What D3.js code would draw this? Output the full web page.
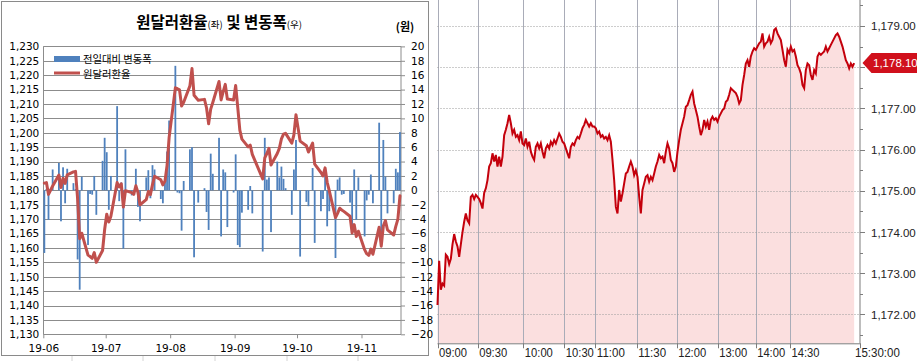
<!DOCTYPE html>
<html>
<head>
<meta charset="utf-8">
<script src="https://cdn.jsdelivr.net/npm/d3@7/dist/d3.min.js"></script>
<style>
  body { margin: 0; background: #fff; }
  svg { display: block; }
</style>
</head>
<body>
<div id="chart"></div>
<script>
// ---------- left chart: daily USD/KRW (left axis) and daily change (right axis) ----------
const startDay = '2019-06-03';
const endDay = '2019-11-21';
const holidays = ['2019-06-06', '2019-08-15', '2019-09-12', '2019-09-13', '2019-10-03', '2019-10-09'];

const rate = [
  1182.5, 1182.7, 1178.6, 1181.5, 1185.3, 1181.0, 1184.2, 1182.4, 1185.4, 1186.4,
  1186.6, 1177.0, 1163.2, 1165.1, 1157.5, 1157.0, 1156.4, 1158.4, 1155.0, 1159.1,
  1166.4, 1171.7, 1169.0, 1171.0, 1182.7, 1181.2, 1182.3, 1174.2, 1179.9, 1179.2,
  1178.6, 1181.6, 1179.3, 1175.0, 1176.8, 1179.6, 1178.5, 1182.0, 1184.9, 1183.7,
  1181.9, 1183.2, 1188.6, 1198.3, 1215.6, 1215.3, 1214.9, 1209.3, 1210.6, 1216.3,
  1222.3, 1213.0, 1211.3, 1211.6, 1208.6, 1203.1, 1208.2, 1210.5, 1217.8, 1211.4,
  1214.3, 1216.8, 1211.7, 1211.4, 1216.4, 1208.8, 1200.9, 1197.8, 1195.1, 1195.7,
  1192.5, 1184.0, 1191.3, 1192.8, 1194.6, 1188.8, 1192.8, 1194.6, 1197.9, 1199.5,
  1199.8, 1196.4, 1199.3, 1206.3, 1197.1, 1195.5, 1193.3, 1196.4, 1189.1, 1186.2,
  1185.0, 1187.8, 1182.8, 1179.9, 1170.5, 1172.0, 1173.8, 1173.2, 1172.7, 1171.0,
  1165.2, 1168.1, 1164.0, 1165.8, 1159.4, 1158.0, 1157.4, 1159.6, 1157.8, 1167.2,
  1160.6, 1167.6, 1169.5, 1166.3, 1164.5, 1167.5, 1170.0, 1178.1
];

const change = [
  -8.7, 0.2, -4.1, 2.9, 3.8, -4.3, 3.2, -1.8, 3.0, 1.0,
  0.2, -9.6, -13.8, 1.9, -7.6, -0.5, -0.6, 2.0, -3.4, 4.1,
  7.3, 5.3, -2.7, 2.0, 11.7, -1.5, 1.1, -8.1, 5.7, -0.7,
  -0.6, 3.0, -2.3, -4.3, 1.8, 2.8, -1.1, 3.5, 2.9, -1.2,
  -1.8, 1.3, 5.4, 9.7, 17.3, -0.3, -0.4, -5.6, 1.3, 5.7,
  6.0, -9.3, -1.7, 0.3, -3.0, -5.5, 5.1, 2.3, 7.3, -6.4,
  2.9, 2.5, -5.1, -0.3, 5.0, -7.6, -7.9, -3.1, -2.7, 0.6,
  -3.2, -8.5, 7.3, 1.5, 1.8, -5.8, 4.0, 1.8, 3.3, 1.6,
  0.3, -3.4, 2.9, 7.0, -9.2, -1.6, -2.2, 3.1, -7.3, -2.9,
  -1.2, 2.8, -5.0, -2.9, -9.4, 1.5, 1.8, -0.6, -0.5, -1.7,
  -5.8, 2.9, -4.1, 1.8, -6.4, -1.4, -0.6, 2.2, -1.8, 9.4,
  -6.6, 7.0, 1.9, -3.2, -1.8, 3.0, 2.5, 8.1
];

const rateTicks = d3.range(1130, 1231, 5);
const changeTicks = d3.range(-20, 21, 2);
const monthLabels = ['19-06', '19-07', '19-08', '19-09', '19-10', '19-11'];

// ---------- right chart: intraday USD/KRW ----------
const intraday = [
  1172.23, 1173.3, 1172.6, 1172.75, 1172.7, 1173.45, 1173.4, 1173.22, 1173.35, 1173.7,
  1173.95, 1173.77, 1173.65, 1173.4, 1173.7, 1174.0, 1174.25, 1174.45, 1174.28, 1174.21,
  1174.85, 1174.9, 1174.8, 1174.9, 1174.85, 1174.8, 1174.7, 1174.57, 1174.95,
  1175.06, 1175.26, 1175.59, 1175.67, 1175.91, 1175.71, 1175.87, 1175.59, 1175.83, 1175.59,
  1175.83, 1176.35, 1176.48, 1176.64, 1176.84, 1176.64, 1176.39, 1176.48, 1176.31, 1176.35,
  1176.23, 1176.44, 1176.15, 1176.11, 1176.27, 1176.07, 1176.19, 1175.95, 1175.83, 1175.75,
  1176.07, 1176.15, 1176.03, 1176.15, 1175.95, 1175.79, 1176.03, 1176.11, 1176.03, 1176.19,
  1176.11, 1176.23, 1176.15, 1176.27, 1176.39, 1176.31, 1176.19, 1176.15, 1176.03, 1175.91,
  1175.79, 1176.07, 1176.15, 1176.11, 1176.23, 1176.31, 1176.27, 1176.39, 1176.52, 1176.60,
  1176.72, 1176.64, 1176.56, 1176.64, 1176.56, 1176.56, 1176.52, 1176.39, 1176.44, 1176.31,
  1176.35, 1176.27, 1176.31, 1176.23, 1176.35, 1176.19, 1175.75, 1175.26, 1174.61, 1174.45,
  1175.02, 1174.74, 1174.94, 1175.18, 1175.42, 1175.46, 1175.59, 1175.71, 1175.59, 1175.38,
  1175.50, 1175.34, 1174.86, 1174.45, 1175.02, 1175.18, 1175.34, 1175.38, 1175.22, 1175.34,
  1175.26, 1175.42, 1175.59, 1175.71, 1175.87, 1175.79, 1175.83, 1175.67, 1175.95, 1176.15,
  1176.03, 1175.75, 1175.67, 1175.46, 1175.59, 1175.95, 1176.23, 1176.48, 1176.64, 1176.80,
  1177.04, 1177.08, 1177.20, 1177.33, 1177.41, 1177.12, 1176.96, 1176.80, 1176.56, 1176.35,
  1176.48, 1176.72, 1176.56, 1176.68, 1176.48, 1176.72, 1176.80, 1176.72, 1176.76, 1176.68,
  1176.80, 1176.88, 1176.96, 1177.00, 1177.16, 1177.20, 1177.33, 1177.49, 1177.45, 1177.41,
  1177.37, 1177.28, 1177.12, 1177.20, 1177.57, 1177.81, 1178.09, 1178.17, 1178.01, 1178.26,
  1178.38, 1178.46, 1178.42, 1178.50, 1178.58, 1178.62, 1178.82, 1178.50, 1178.58, 1178.62,
  1178.74, 1178.58, 1178.66, 1178.90, 1178.94, 1178.82, 1178.74, 1178.66, 1178.42, 1178.17,
  1178.01, 1178.42, 1178.34, 1178.50, 1178.38, 1178.42, 1178.26, 1178.05, 1177.97, 1177.85,
  1177.57, 1177.49, 1177.93, 1178.09, 1178.05, 1177.81, 1177.69, 1177.93, 1177.85, 1178.26,
  1178.34, 1178.30, 1178.34, 1178.38, 1178.50, 1178.38, 1178.46, 1178.54, 1178.62, 1178.70,
  1178.78, 1178.82, 1178.74, 1178.62, 1178.50, 1178.34, 1178.17, 1178.09, 1177.97, 1178.09,
  1178.01, 1178.10
];

const timeLabels = ['09:00', '09:30', '10:00', '10:30', '11:00', '11:30', '12:00', '13:00', '14:00', '14:30', '15:30:00'];
// tick positions counted in intraday samples
const timePos = [0, 24.1, 51.5, 76.1, 94.7, 119.5, 143.5, 168.1, 190.9, 211.5, 253.2];
const priceTicks = d3.range(1172, 1179.5, 1);
const lastPrice = 1178.10;

// ---------- svg ----------
const width = 917;
const height = 361;
const korFont = '"Noto Sans CJK KR", "DejaVu Sans", sans-serif';
const numFont = '"Liberation Sans", Arial, sans-serif';

const svg = d3.select('#chart')
  .append('svg')
  .attr('width', width)
  .attr('height', height);

// ================= LEFT CHART =================
const left = svg.append('g');

// spreadsheet cells peeking around the chart object
[72, 143, 215, 287, 358].forEach(x => {
  left.append('line').attr('x1', x).attr('x2', x).attr('y1', 356).attr('y2', 361)
    .attr('stroke', '#d4d4d4');
});

left.append('rect')
  .attr('x', 1.5).attr('y', 1.5)
  .attr('width', 427).attr('height', 354)
  .attr('fill', '#fff')
  .attr('stroke', '#8a8a8a');

const parseDay = d3.timeParse('%Y-%m-%d');
const fmtDay = d3.timeFormat('%Y-%m-%d');
const holidaySet = new Set(holidays);
const days = d3.timeDay.range(parseDay(startDay), d3.timeDay.offset(parseDay(endDay), 1))
  .filter(d => d.getDay() > 0 && d.getDay() < 6 && !holidaySet.has(fmtDay(d)));

const halfDay = 12 * 3600 * 1000;
const xL = d3.scaleTime()
  .domain([new Date(+days[0] - halfDay), new Date(+days[days.length - 1] + halfDay)])
  .range([43.3, 401]);
const yL = d3.scaleLinear().domain([1130, 1230]).range([334.3, 46.4]);
const yR = d3.scaleLinear().domain([-20, 20]).range([334.3, 46.4]);

// horizontal gridlines
left.append('g')
  .selectAll('line')
  .data(rateTicks)
  .join('line')
  .attr('x1', xL.range()[0]).attr('x2', xL.range()[1])
  .attr('y1', d => Math.round(yL(d)) + 0.5).attr('y2', d => Math.round(yL(d)) + 0.5)
  .attr('stroke', '#8c8c8c');

// plot border verticals
left.append('line')
  .attr('x1', 43.5).attr('x2', 43.5).attr('y1', yL(1230)).attr('y2', yL(1130))
  .attr('stroke', '#8c8c8c');
left.append('line')
  .attr('x1', 401).attr('x2', 401).attr('y1', yL(1230)).attr('y2', yL(1130))
  .attr('stroke', '#8c8c8c');

// bars
const nDays = Math.min(days.length, change.length, rate.length);
left.append('g')
  .selectAll('rect')
  .data(d3.range(nDays))
  .join('rect')
  .attr('x', i => xL(days[i]) - 0.9)
  .attr('width', 1.8)
  .attr('y', i => Math.min(yR(0), yR(change[i])))
  .attr('height', i => Math.abs(yR(change[i]) - yR(0)))
  .attr('fill', '#4f81bd');

// rate line
const rateLine = d3.line()
  .x(i => xL(days[i]))
  .y(i => yL(rate[i]));

left.append('path')
  .datum(d3.range(nDays))
  .attr('d', rateLine)
  .attr('fill', 'none')
  .attr('stroke', '#c0504d')
  .attr('stroke-width', 3)
  .attr('stroke-linejoin', 'round')
  .attr('stroke-linecap', 'round');

// left axis labels
const leftAxis = left.append('g')
  .attr('transform', 'translate(43.3,0)')
  .call(d3.axisLeft(yL).tickValues(rateTicks).tickFormat(d3.format(',')).tickSize(0).tickPadding(4));
leftAxis.select('.domain').remove();
leftAxis.selectAll('text')
  .attr('font-family', '"DejaVu Sans", sans-serif')
  .attr('font-size', 10.5)
  .attr('fill', '#000');

// right axis
const rightAxis = left.append('g')
  .attr('transform', 'translate(401,0)')
  .call(d3.axisRight(yR).tickValues(changeTicks).tickSize(4).tickPadding(6));
rightAxis.select('.domain').remove();
rightAxis.selectAll('line').attr('stroke', '#8c8c8c');
rightAxis.selectAll('text')
  .attr('font-family', '"DejaVu Sans", sans-serif')
  .attr('font-size', 10.5)
  .attr('fill', '#000');

// month axis
const monthTicks = monthLabels.map((m, i) => new Date(+d3.timeMonth.offset(days[0], i) - halfDay));
const bottomAxis = left.append('g')
  .attr('transform', `translate(0,${yL(1130)})`)
  .call(d3.axisBottom(xL).tickValues(monthTicks)
    .tickFormat((d, i) => monthLabels[i]).tickSize(4).tickPadding(6));
bottomAxis.select('.domain').remove();
bottomAxis.selectAll('line').attr('stroke', '#8c8c8c');
bottomAxis.selectAll('text')
  .attr('font-family', '"DejaVu Sans", sans-serif')
  .attr('font-size', 10.5)
  .attr('fill', '#000');

// title
const title = left.append('text')
  .attr('x', 219).attr('y', 28)
  .attr('text-anchor', 'middle')
  .attr('font-family', korFont)
  .attr('fill', '#000');
title.append('tspan').attr('font-size', 15.5).attr('font-weight', 'bold').text('원달러환율');
title.append('tspan').attr('font-size', 9.5).text('(좌)');
title.append('tspan').attr('font-size', 15.5).attr('font-weight', 'bold').text(' 및 변동폭');
title.append('tspan').attr('font-size', 9.5).text('(우)');

left.append('text')
  .attr('x', 405).attr('y', 31)
  .attr('text-anchor', 'middle')
  .attr('font-family', korFont)
  .attr('font-size', 11)
  .attr('font-weight', 'bold')
  .text('(원)');

// legend
const legend = left.append('g').attr('font-family', korFont).attr('font-size', 10.3);
legend.append('rect').attr('x', 54).attr('y', 56).attr('width', 26).attr('height', 6).attr('fill', '#4f81bd');
legend.append('text').attr('x', 83).attr('y', 62.5).text('전일대비 변동폭');
legend.append('line').attr('x1', 54).attr('x2', 80).attr('y1', 73).attr('y2', 73)
  .attr('stroke', '#c0504d').attr('stroke-width', 3);
legend.append('text').attr('x', 83).attr('y', 77.6).text('원달러환율');

// ================= RIGHT CHART =================
const right = svg.append('g');

const xP = d3.scaleLinear().domain([0, 253.2]).range([437.5, 859.5]);
const yP = d3.scaleLinear().domain([1171.3, 1179.63]).range([343.3, 0]);
const baseY = yP.range()[0];
const axisX = xP(253.2) + 0.5;

// area under the price
const area = d3.area()
  .x((d, i) => xP(i))
  .y0(baseY)
  .y1(d => yP(d));

right.append('path')
  .datum(intraday)
  .attr('d', area)
  .attr('fill', '#fbdfdf');

// vertical time gridlines
right.append('g')
  .selectAll('line')
  .data(timePos.slice(0, -1))
  .join('line')
  .attr('x1', d => Math.round(xP(d)) + 0.5).attr('x2', d => Math.round(xP(d)) + 0.5)
  .attr('y1', 0).attr('y2', baseY)
  .attr('stroke', '#a9acb8');

// dotted price gridlines
right.append('g')
  .selectAll('line')
  .data(priceTicks)
  .join('line')
  .attr('x1', xP(0)).attr('x2', xP(253.2))
  .attr('y1', d => Math.round(yP(d)) + 0.5).attr('y2', d => Math.round(yP(d)) + 0.5)
  .attr('stroke', '#9a9a9a')
  .attr('stroke-dasharray', '1,2');

// price line
const priceLine = d3.line()
  .x((d, i) => xP(i))
  .y(d => yP(d));

right.append('path')
  .datum(intraday)
  .attr('d', priceLine)
  .attr('fill', 'none')
  .attr('stroke', '#c4000c')
  .attr('stroke-width', 2)
  .attr('stroke-linejoin', 'miter');

// axes frame
right.append('line')
  .attr('x1', axisX).attr('x2', axisX).attr('y1', 0).attr('y2', baseY)
  .attr('stroke', '#7d7d7d');
right.append('line')
  .attr('x1', xP(0)).attr('x2', axisX + 0.5).attr('y1', baseY + 0.5).attr('y2', baseY + 0.5)
  .attr('stroke', '#7d7d7d');

// right price axis ticks
right.append('g')
  .selectAll('line')
  .data(d3.range(1171.5, 1179.6, 0.5))
  .join('line')
  .attr('x1', axisX)
  .attr('x2', d => axisX + (d % 1 === 0 ? 5 : 3))
  .attr('y1', d => Math.round(yP(d)) + 0.5).attr('y2', d => Math.round(yP(d)) + 0.5)
  .attr('stroke', '#7d7d7d');

// labels hidden under the last-price tag are left out, as in the source
const tagY = yP(lastPrice);
right.append('g')
  .selectAll('text')
  .data(priceTicks.filter(d => Math.abs(yP(d) - tagY) > 14))
  .join('text')
  .attr('x', axisX + 11)
  .attr('y', d => yP(d) + 4.5)
  .attr('font-family', numFont)
  .attr('font-size', 11.5)
  .attr('fill', '#222')
  .text(d => d3.format(',.2f')(d));

// time axis ticks and labels
right.append('g')
  .selectAll('line')
  .data(timePos)
  .join('line')
  .attr('x1', d => Math.round(xP(d)) + 0.5).attr('x2', d => Math.round(xP(d)) + 0.5)
  .attr('y1', baseY).attr('y2', baseY + 5)
  .attr('stroke', '#7d7d7d');

right.append('g')
  .selectAll('text')
  .data(timeLabels)
  .join('text')
  .attr('x', (d, i) => i === timeLabels.length - 1 ? xP(timePos[i]) - 4.5 : xP(timePos[i]) + 1.5)
  .attr('y', 356.5)
  .attr('font-family', numFont)
  .attr('font-size', 12.5)
  .attr('textLength', d => d.length * 5.6)
  .attr('lengthAdjust', 'spacingAndGlyphs')
  .attr('fill', '#222')
  .text(d => d);

// last price tag
const tagX = axisX + 2.5;
right.append('polygon')
  .attr('points', [
    [tagX, tagY], [tagX + 9, tagY - 10], [917, tagY - 10], [917, tagY + 10], [tagX + 9, tagY + 10]
  ].map(p => p.join(',')).join(' '))
  .attr('fill', '#d0101c');
right.append('text')
  .attr('x', tagX + 10.5)
  .attr('y', tagY + 4.3)
  .attr('font-family', numFont)
  .attr('font-size', 11.5)
  .attr('fill', '#fff')
  .text(d3.format(',.2f')(lastPrice));
</script>
</body>
</html>
